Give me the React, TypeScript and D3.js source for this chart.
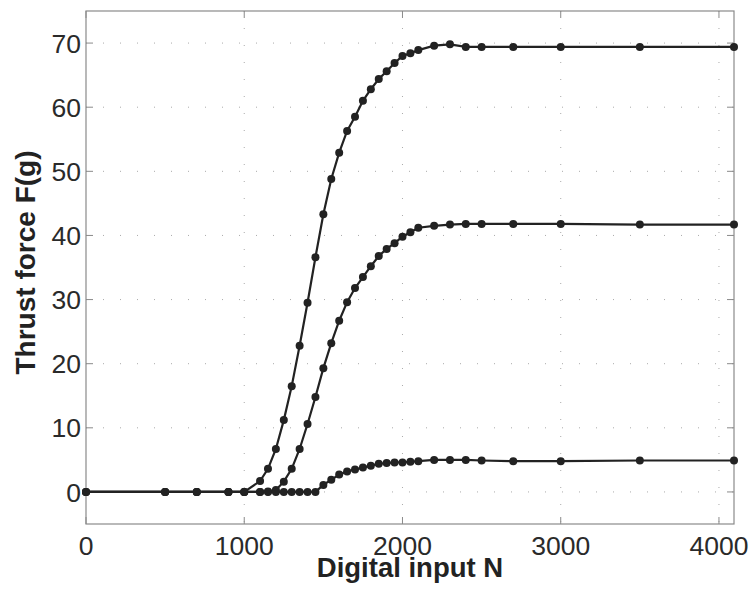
import React from "react";
import * as d3 from "d3";

const N_ALL = [0, 500, 700, 900, 1000, 1100, 1150, 1200, 1250, 1300, 1350, 1400, 1450, 1500, 1550, 1600, 1650, 1700, 1750, 1800, 1850, 1900, 1950, 2000, 2050, 2100, 2200, 2300, 2400, 2500, 2700, 3000, 3500, 4095];

const F_HIGH = [0, 0, 0, 0, 0, 1.7, 3.6, 6.7, 11.2, 16.5, 22.8, 29.5, 36.6, 43.3, 48.8, 52.9, 56.3, 58.5, 61.0, 62.8, 64.4, 65.6, 66.9, 68.0, 68.4, 68.9, 69.6, 69.8, 69.4, 69.4, 69.4, 69.4, 69.4, 69.4];

const F_MID = [0, 0, 0, 0, 0, 0, 0.05, 0.3, 1.6, 3.6, 6.7, 10.6, 14.8, 19.3, 23.2, 26.7, 29.6, 31.8, 33.5, 35.2, 36.8, 37.9, 38.8, 39.8, 40.5, 41.2, 41.5, 41.7, 41.8, 41.8, 41.8, 41.8, 41.7, 41.7];

const F_LOW = [0, 0, 0, 0, 0, 0, 0, 0, 0, 0, 0, 0, 0, 1.1, 1.9, 2.7, 3.2, 3.5, 3.8, 4.1, 4.4, 4.5, 4.6, 4.6, 4.7, 4.8, 5.0, 5.0, 5.0, 4.9, 4.8, 4.8, 4.9, 4.9];

const X_TICKS = [0, 1000, 2000, 3000, 4000];
const Y_TICKS = [0, 10, 20, 30, 40, 50, 60, 70];

const SERIES = [F_HIGH, F_MID, F_LOW];

export default function App() {
  const W = 749, H = 591;
  const x = d3.scaleLinear().domain([0, 4095]).range([86, 734]);
  const y = d3.scaleLinear().domain([-5, 75]).range([524, 11]);
  const [x0, x1] = x.range();
  const [y0, y1] = y.range();
  const line = d3.line<[number, number]>().x(d => x(d[0])).y(d => y(d[1]));
  const font = "'Liberation Sans', Arial, Helvetica, sans-serif";
  const axisColor = "#8a8a8a";

  return (
    <svg width={W} height={H} style={{ position: "fixed", left: 0, top: 0, background: "#fff" }}>
      <rect x={0} y={0} width={W} height={H} fill="#fff" />
      {/* grid */}
      {X_TICKS.filter(t => t > 0).map(t => (
        <line key={"gx" + t} x1={x(t)} x2={x(t)} y1={y1} y2={y0} stroke="#aaa" strokeWidth={1} strokeDasharray="1,16" />
      ))}
      {Y_TICKS.map(t => (
        <line key={"gy" + t} x1={x0} x2={x1} y1={y(t)} y2={y(t)} stroke="#aaa" strokeWidth={1} strokeDasharray="1,16" />
      ))}
      {/* box */}
      <rect x={x0} y={y1} width={x1 - x0} height={y0 - y1} fill="none" stroke={axisColor} strokeWidth={1.2} />
      {/* ticks */}
      {X_TICKS.map(t => (
        <g key={"tx" + t}>
          <line x1={x(t)} x2={x(t)} y1={y0} y2={y0 - 7} stroke={axisColor} strokeWidth={1} />
          <line x1={x(t)} x2={x(t)} y1={y1} y2={y1 + 7} stroke={axisColor} strokeWidth={1} />
          <text x={x(t)} y={555} textAnchor="middle" fontFamily={font} fontSize={26.5} fill="#2a2a2a">{t}</text>
        </g>
      ))}
      {Y_TICKS.map(t => (
        <g key={"ty" + t}>
          <line x1={x0} x2={x0 + 7} y1={y(t)} y2={y(t)} stroke={axisColor} strokeWidth={1} />
          <line x1={x1} x2={x1 - 7} y1={y(t)} y2={y(t)} stroke={axisColor} strokeWidth={1} />
          <text x={81} y={y(t) + 9.6} textAnchor="end" fontFamily={font} fontSize={26.5} fill="#2a2a2a">{t}</text>
        </g>
      ))}
      {/* series */}
      {SERIES.map((s, i) => {
        const pts: [number, number][] = N_ALL.map((n, j) => [n, s[j]]);
        return (
          <g key={"s" + i}>
            <path d={line(pts) || ""} fill="none" stroke="#222" strokeWidth={2.2} />
            {pts.map((p, j) => (
              <circle key={j} cx={x(p[0])} cy={y(p[1])} r={4} fill="#222" />
            ))}
          </g>
        );
      })}
      {/* labels */}
      <text x={(x0 + x1) / 2} y={577} textAnchor="middle" fontFamily={font} fontSize={27.5} fontWeight="bold" fill="#222">Digital input N</text>
      <text transform={`translate(35,${(y0 + y1) / 2 - 5}) rotate(-90)`} textAnchor="middle" fontFamily={font} fontSize={28} fontWeight="bold" fill="#222">Thrust force F(g)</text>
    </svg>
  );
}
